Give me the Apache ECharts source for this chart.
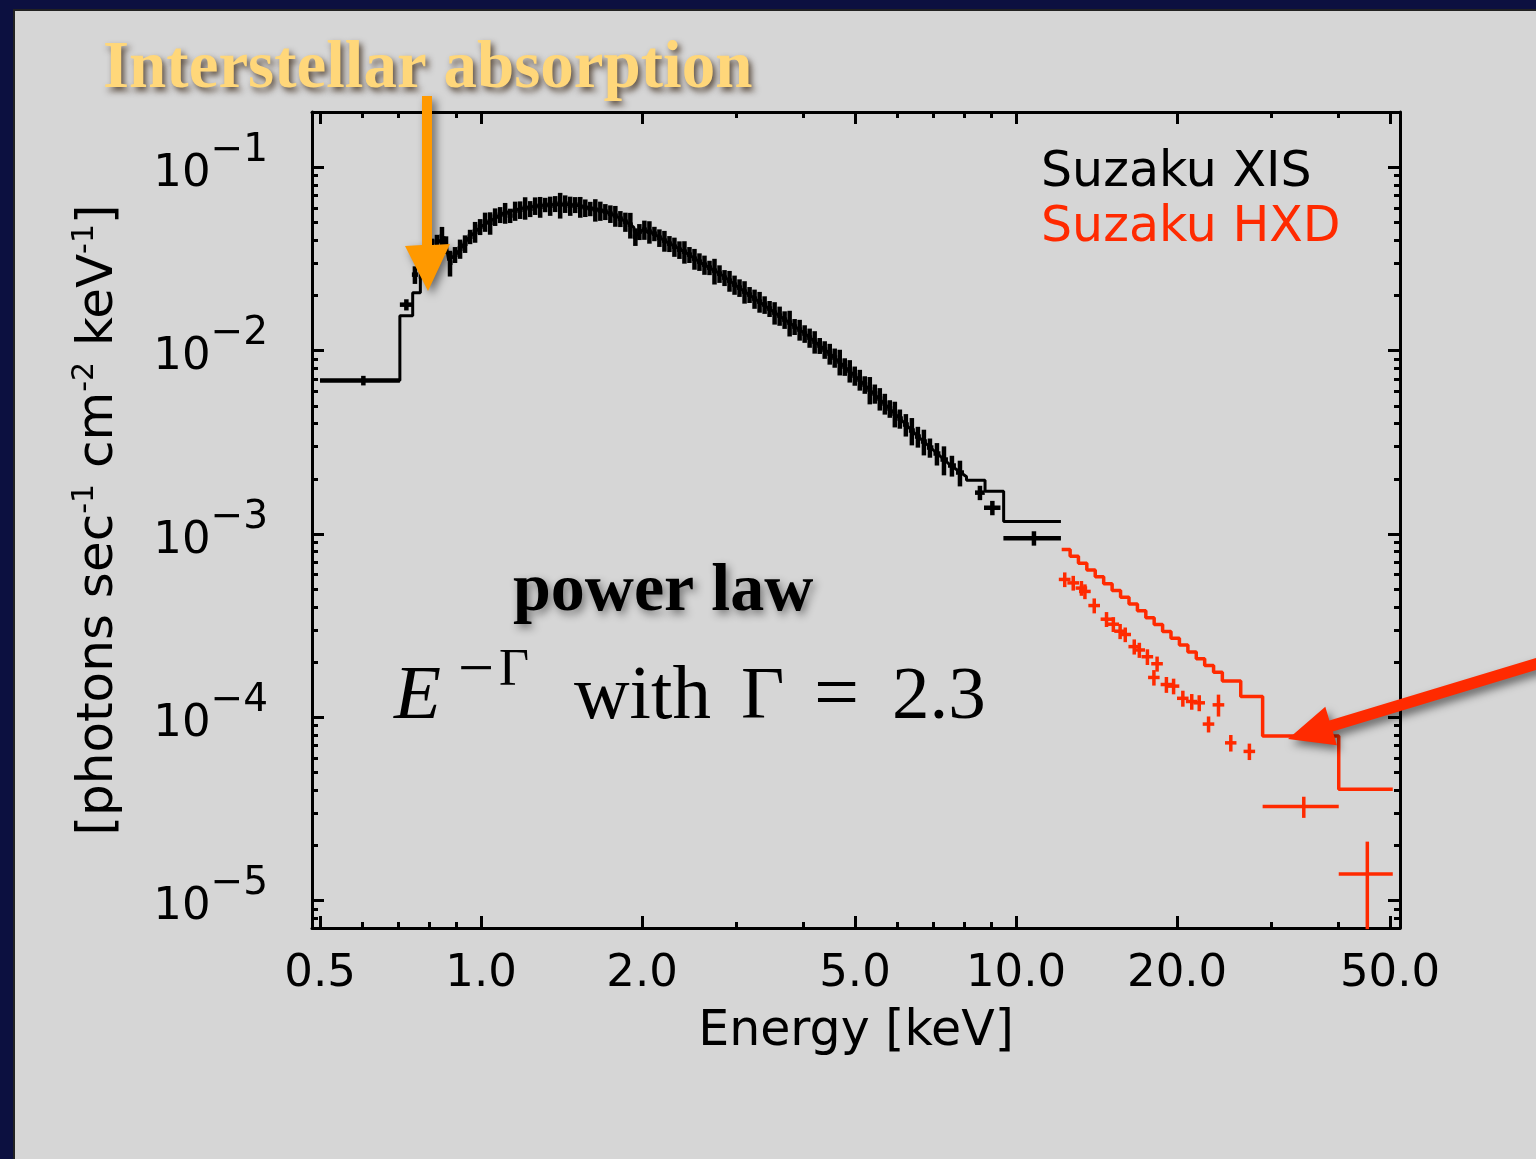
<!DOCTYPE html>
<html><head><meta charset="utf-8">
<script src="https://cdn.jsdelivr.net/npm/echarts@6/dist/echarts.min.js"></script>
<style>html,body{margin:0;padding:0;background:#0c1040;}#c{width:1536px;height:1159px;}</style>
</head><body><div id="c"></div>
<script>
// ---------- axis ranges & ticks ----------
const xRange = [0.483, 52.2];
const yRange = [7.1e-6, 0.2];
const xMajorTicks = [0.5, 1, 2, 5, 10, 20, 50];
const xMinorTicks = [0.6, 0.7, 0.8, 0.9, 3, 4, 6, 7, 8, 9, 30, 40];
const yMajorTicks = [1e-5, 1e-4, 1e-3, 1e-2, 1e-1];
const yMinorTicks = [8e-6, 9e-6,
  2e-5, 3e-5, 4e-5, 5e-5, 6e-5, 7e-5, 8e-5, 9e-5,
  2e-4, 3e-4, 4e-4, 5e-4, 6e-4, 7e-4, 8e-4, 9e-4,
  2e-3, 3e-3, 4e-3, 5e-3, 6e-3, 7e-3, 8e-3, 9e-3,
  2e-2, 3e-2, 4e-2, 5e-2, 6e-2, 7e-2, 8e-2, 9e-2];

// ---------- Suzaku XIS data (black) ----------
// wide-bin points: centre energy, half width (keV), flux, error %
const xisWideE  = [0.6025, 0.725, 8.56, 9.03, 10.80];
const xisWideDE = [0.1025, 0.020, 0.18, 0.32, 1.33];
const xisWideF  = [6.87e-3, 1.78e-2, 1.68e-3, 1.39e-3, 9.49e-4];
const xisWideErr = [6, 7, 9, 9, 9];
// dense points
const xisE = [0.7522,0.7721,0.7922,0.8094,0.8270,0.8451,0.8599,0.8748,0.8939,0.9135,
  0.9333,0.9537,0.9745,0.9957,1.0174,1.0397,1.0622,1.0853,1.1090,1.1332,
  1.1579,1.1830,1.2088,1.2352,1.2619,1.2895,1.3177,1.3462,1.3756,1.4054,
  1.4362,1.4676,1.4997,1.5325,1.5660,1.6000,1.6350,1.6706,1.7071,1.7445,
  1.7822,1.8212,1.8610,1.9011,1.9427,1.9766,2.0195,2.0637,2.1086,2.1544,
  2.2015,2.2496,2.2983,2.3485,2.3994,2.4519,2.5055,2.5597,2.6157,2.6730,
  2.7308,2.7906,2.8516,2.9134,2.9772,3.0416,3.1081,3.1761,3.2448,3.3158,
  3.3884,3.4617,3.5374,3.6148,3.6930,3.7738,3.8555,3.9398,4.0260,4.1131,
  4.2031,4.2954,4.3883,4.4843,4.5814,4.6816,4.7841,4.8876,4.9946,5.1039,
  5.2144,5.3285,5.4450,5.5629,5.6846,5.8076,5.9348,6.0647,6.2230,6.3858,
  6.5541,6.7255,6.9024,7.1140,7.3323,7.5880,7.8546];
const xisF = [0.02595,0.02870,0.03294,0.03640,0.03926,0.04181,0.03783,0.03017,0.03336,0.03597,
  0.03829,0.04181,0.04451,0.04738,0.05046,0.04980,0.05372,0.05509,0.05649,0.05450,
  0.05793,0.05866,0.06015,0.05939,0.06168,0.06091,0.06246,0.06168,0.06325,0.06246,
  0.06325,0.06168,0.06246,0.06091,0.06010,0.05939,0.05870,0.05793,0.05721,0.05579,
  0.05441,0.05240,0.05046,0.04859,0.04181,0.04451,0.04564,0.04451,0.04340,0.04128,
  0.03977,0.03829,0.03687,0.03551,0.03463,0.03336,0.03172,0.03055,0.02942,0.02834,
  0.02729,0.02628,0.02498,0.02406,0.02289,0.02204,0.02096,0.02019,0.01920,0.01849,
  0.01781,0.01694,0.01611,0.01551,0.01475,0.01421,0.01351,0.01302,0.01238,0.01177,
  0.01119,0.01065,0.01013,0.009631,0.009159,0.008711,0.008180,0.007780,0.007307,0.006950,
  0.006527,0.006132,0.005831,0.005475,0.005143,0.004830,0.004536,0.004260,0.003951,0.003664,
  0.003398,0.003192,0.002960,0.002746,0.002546,0.002362,0.002163];
const xisErrPct = [11,14,10,12,9,13,11,16,10,12,
  11,9,13,10,12,14,11,10,13,9,
  12,11,14,10,11,13,9,12,10,16,
  11,12,10,13,11,9,14,12,10,11,
  13,10,12,16,11,10,12,14,9,11,
  13,10,12,11,14,10,13,11,12,9,
  16,11,10,13,12,11,14,10,12,13,
  11,10,14,12,11,16,10,13,11,12,
  14,10,11,13,12,16,11,14,12,13,
  11,17,12,14,13,11,16,12,14,17,
  13,16,12,14,18,13,16];
// XIS model (polyline vertices)
const xisModelE = [0.5,0.705,0.705,0.745,0.745,0.77,0.77,0.80,0.83,0.855,0.87,0.90,0.95,1.0,1.1,1.2,1.3,1.4,1.5,1.6,1.7,1.8,1.9,1.93,1.94,2.0,2.1,2.2,2.4,2.6,2.8,3.0,3.3,3.6,4.0,4.5,5.0,5.5,6.0,6.5,7.0,7.5,8.08,8.08,8.75,8.75,9.48,9.48,12.13];
const xisModelF = [6.87e-3,6.87e-3,1.55e-2,1.55e-2,2.07e-2,2.07e-2,2.75e-2,3.2e-2,3.9e-2,4.15e-2,3.1e-2,3.38e-2,4.15e-2,4.75e-2,5.6e-2,6.0e-2,6.2e-2,6.28e-2,6.22e-2,6.0e-2,5.75e-2,5.35e-2,4.88e-2,4.7e-2,4.2e-2,4.52e-2,4.35e-2,3.98e-2,3.46e-2,2.96e-2,2.62e-2,2.26e-2,1.86e-2,1.56e-2,1.26e-2,9.55e-3,7.29e-3,5.6e-3,4.4e-3,3.48e-3,2.87e-3,2.4e-3,2.05e-3,1.96e-3,1.96e-3,1.71e-3,1.71e-3,1.17e-3,1.17e-3];

// ---------- Suzaku HXD data (red) ----------
const hxdE  = [12.33,12.79,13.25,13.45,14.0,14.76,15.2,15.65,16.0,16.63,17.0,17.6,18.35,18.1,19.1,19.7,20.5,21.3,22.0,23.9,22.9,25.2,27.3,34.5,45.35];
const hxdF  = [5.65e-4,5.41e-4,5.07e-4,4.86e-4,4.07e-4,3.43e-4,3.22e-4,2.95e-4,2.83e-4,2.43e-4,2.33e-4,2.14e-4,1.96e-4,1.65e-4,1.51e-4,1.48e-4,1.27e-4,1.22e-4,1.20e-4,1.17e-4,9.19e-5,7.26e-5,6.52e-5,3.26e-5,1.40e-5];
const hxdDE = [0.31,0.32,0.33,0.34,0.35,0.37,0.38,0.39,0.40,0.41,0.42,0.44,0.46,0.45,0.47,0.49,0.51,0.53,0.55,0.60,0.57,0.62,0.68,5.6,5.25];
const hxdDF = [5.2e-5,5.0e-5,4.7e-5,4.5e-5,3.8e-5,3.2e-5,3.0e-5,2.8e-5,2.6e-5,2.3e-5,2.2e-5,2.1e-5,1.85e-5,1.6e-5,1.5e-5,1.45e-5,1.27e-5,1.2e-5,1.2e-5,1.6e-5,9.2e-6,7.5e-6,6.7e-6,4.3e-6,7.0e-6];
// HXD model: bin edges and values
const hxdModelEdges = [12.17,12.62,13.08,13.56,14.06,14.58,15.12,15.68,16.26,16.86,17.48,18.12,18.79,19.48,20.20,20.95,21.72,22.52,23.40,24.3,26.3,28.9,40.1,50.6];
const hxdModelF = [8.23e-4,7.56e-4,6.93e-4,6.36e-4,5.84e-4,5.36e-4,4.92e-4,4.52e-4,4.15e-4,3.81e-4,3.49e-4,3.21e-4,2.94e-4,2.70e-4,2.48e-4,2.27e-4,2.09e-4,1.92e-4,1.76e-4,1.58e-4,1.30e-4,7.9e-5,4.05e-5];

const BLACK = '#000000', RED = '#ff2a00';
const SANS = 'DejaVu Sans', SERIF = 'Liberation Serif';

// ---------- build series data ----------
const xisCross = [];
xisWideE.forEach((e, i) => {
  const f = xisWideF[i], d = f * xisWideErr[i] / 100;
  xisCross.push([e, f, e - xisWideDE[i], e + xisWideDE[i], f - d, f + d]);
});
xisE.forEach((e, i) => {
  const prev = i > 0 ? xisE[i - 1] : e * e / xisE[i + 1];
  const next = i < xisE.length - 1 ? xisE[i + 1] : e * e / xisE[i - 1];
  const f = xisF[i], d = f * xisErrPct[i] / 100;
  xisCross.push([e, f, Math.sqrt(prev * e), Math.sqrt(e * next), f - d, f + d]);
});
const hxdCross = hxdE.map((e, i) => [e, hxdF[i], e - hxdDE[i], e + hxdDE[i], hxdF[i] - hxdDF[i], hxdF[i] + hxdDF[i]]);
const xisModel = xisModelE.map((e, i) => [e, xisModelF[i]]);
const hxdModel = [];
hxdModelF.forEach((f, i) => { hxdModel.push([hxdModelEdges[i], f]); hxdModel.push([hxdModelEdges[i + 1], f]); });

function crossRenderer(color, width) {
  return function (params, api) {
    const a = api.coord([api.value(2), api.value(1)]);
    const b = api.coord([api.value(3), api.value(1)]);
    const c = api.coord([api.value(0), api.value(4)]);
    const d = api.coord([api.value(0), api.value(5)]);
    const st = { stroke: color, lineWidth: width };
    return { type: 'group', children: [
      { type: 'line', shape: { x1: a[0], y1: a[1], x2: b[0], y2: b[1] }, style: st },
      { type: 'line', shape: { x1: c[0], y1: c[1], x2: d[0], y2: d[1] }, style: st }
    ] };
  };
}

function xAxisDef(pos, major, withLabel) {
  return {
    type: 'log', logBase: 10, min: xRange[0], max: xRange[1], position: pos,
    axisLine: { show: major, onZero: false, lineStyle: { color: BLACK, width: 3 } },
    axisTick: { show: true, inside: true, length: major ? 12 : 6, customValues: major ? xMajorTicks : xMinorTicks, lineStyle: { color: BLACK, width: 3 } },
    axisLabel: withLabel ? { show: true, customValues: xMajorTicks, formatter: v => Number(v).toFixed(1), fontFamily: SANS, fontSize: 45, color: BLACK, margin: 24 } : { show: false },
    splitLine: { show: false }, minorTick: { show: false }, minorSplitLine: { show: false },
    name: withLabel ? 'Energy [keV]' : '', nameLocation: 'middle', nameGap: 80,
    nameTextStyle: { fontFamily: SANS, fontSize: 49, color: BLACK }
  };
}
function yAxisDef(pos, major, withLabel) {
  return {
    type: 'log', logBase: 10, min: yRange[0], max: yRange[1], position: pos,
    axisLine: { show: major, onZero: false, lineStyle: { color: BLACK, width: 3 } },
    axisTick: { show: true, inside: true, length: major ? 12 : 6, customValues: major ? yMajorTicks : yMinorTicks, lineStyle: { color: BLACK, width: 3 } },
    axisLabel: withLabel ? {
      show: true, customValues: yMajorTicks, margin: 44, padding: [14, 0, 0, 0],
      formatter: v => '{b|10}{s|\u2212' + Math.round(-Math.log10(Number(v))) + '}',
      rich: {
        b: { fontFamily: SANS, fontSize: 45, color: BLACK, lineHeight: 86 },
        s: { fontFamily: SANS, fontSize: 39, color: BLACK, lineHeight: 40, verticalAlign: 'top' }
      }
    } : { show: false },
    splitLine: { show: false }, minorTick: { show: false }, minorSplitLine: { show: false },
    name: withLabel ? '[photons sec{s|-1} cm{s|-2} keV{s|-1}]' : '', nameLocation: 'middle', nameGap: 184, nameRotate: 90,
    nameTextStyle: { fontFamily: SANS, fontSize: 50, color: BLACK, lineHeight: 58,
      rich: { s: { fontFamily: SANS, fontSize: 30, color: BLACK, lineHeight: 32, verticalAlign: 'top' } } }
  };
}

const chart = echarts.init(document.getElementById('c'), null, { renderer: 'canvas' });

function txt(text, x, y, font, extra) {
  return Object.assign({ type: 'text', x: x, y: y, z: 100,
    style: Object.assign({ text: text, fill: BLACK, align: 'left', verticalAlign: 'middle' }, font) }, extra || {});
}

chart.setOption({
  animation: false,
  backgroundColor: '#0c1040',
  grid: { left: 312, right: 136, top: 112, bottom: 231, containLabel: false, outerBoundsMode: 'none' },
  xAxis: [xAxisDef('bottom', true, true), xAxisDef('bottom', false, false), xAxisDef('top', true, false), xAxisDef('top', false, false)],
  yAxis: [yAxisDef('left', true, true), yAxisDef('left', false, false), yAxisDef('right', true, false), yAxisDef('right', false, false)],
  series: [
    { name: 'XIS model', type: 'line', data: xisModel, showSymbol: false, lineStyle: { color: BLACK, width: 3 }, z: 3 },
    { name: 'Suzaku XIS', type: 'custom', data: xisCross, renderItem: crossRenderer(BLACK, 4.5), z: 4, clip: false },
    { name: 'HXD model', type: 'line', data: hxdModel, showSymbol: false, lineStyle: { color: RED, width: 3.5 }, z: 3 },
    { name: 'Suzaku HXD', type: 'custom', data: hxdCross, renderItem: crossRenderer(RED, 3.5), z: 4, clip: false }
  ],
  graphic: [
    { type: 'rect', z: -100, shape: { x: 14, y: 10, width: 1540, height: 1170 }, style: { fill: '#d6d6d6', stroke: '#222', lineWidth: 2 } },
    txt('Suzaku XIS', 1041, 173, { fontFamily: SANS, fontSize: 49, fill: BLACK }),
    txt('Suzaku HXD', 1041, 228, { fontFamily: SANS, fontSize: 49, fill: RED }),
    txt('Interstellar absorption', 103, 70, { fontFamily: SERIF, fontSize: 67, fontWeight: 'bold', fill: '#ffd77a',
      textShadowColor: 'rgba(40,20,0,0.7)', textShadowBlur: 6, textShadowOffsetX: 3, textShadowOffsetY: 4 }),
    txt('power law', 513, 592, { fontFamily: SERIF, fontSize: 68, fontWeight: 'bold', fill: BLACK,
      textShadowColor: 'rgba(0,0,0,0.45)', textShadowBlur: 8, textShadowOffsetX: 3, textShadowOffsetY: 4 }),
    txt('E', 394, 698, { fontFamily: SERIF, fontSize: 77, fontStyle: 'italic' }),
    txt('\u2212', 458, 672, { fontFamily: SERIF, fontSize: 64 }),
    txt('\u0393', 499, 671, { fontFamily: SERIF, fontSize: 52 }),
    txt('with', 574, 698, { fontFamily: SERIF, fontSize: 77 }),
    txt('\u0393', 741, 698, { fontFamily: SERIF, fontSize: 75 }),
    txt('=', 814, 698, { fontFamily: SERIF, fontSize: 80 }),
    txt('2.3', 892, 698, { fontFamily: SERIF, fontSize: 75 }),
    { type: 'polygon', z: 100, shape: { points: [[422, 96], [432, 96], [432, 245], [450, 244], [428, 291], [405, 246], [422, 245]] },
      style: { fill: '#ff9900', shadowColor: 'rgba(0,0,0,0.5)', shadowBlur: 8, shadowOffsetX: 4, shadowOffsetY: 4 } },
    { type: 'polygon', z: 100, shape: { points: [[1538.3, 657.3], [1329.4, 720.5], [1325.3, 706.8], [1288, 739], [1336.9, 745.2], [1332.8, 731.5], [1541.7, 668.3]] },
      style: { fill: RED, shadowColor: 'rgba(0,0,0,0.5)', shadowBlur: 8, shadowOffsetX: 4, shadowOffsetY: 5 } }
  ]
});
</script></body></html>
